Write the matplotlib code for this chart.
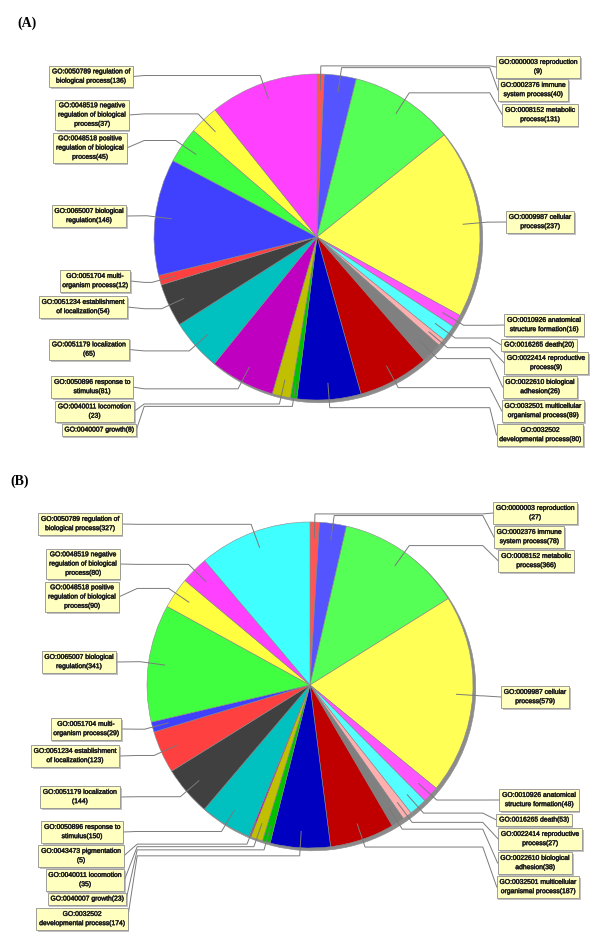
import matplotlib.pyplot as plt
import matplotlib.patheffects as pe
import numpy as np

W, H = 600, 942

# slice order is clockwise from 12 o'clock
terms_a = [
    "GO:0000003 reproduction\n", "GO:0002376 immune\nsystem process",
    "GO:0008152 metabolic\nprocess", "GO:0009987 cellular\nprocess",
    "GO:0010926 anatomical\nstructure formation", "GO:0016265 death",
    "GO:0022414 reproductive\nprocess", "GO:0022610 biological\nadhesion",
    "GO:0032501 multicellular\norganismal process", "GO:0032502\ndevelopmental process",
    "GO:0040007 growth", "GO:0040011 locomotion\n",
    "GO:0050896 response to\nstimulus", "GO:0051179 localization\n",
    "GO:0051234 establishment\nof localization", "GO:0051704 multi-\norganism process",
    "GO:0065007 biological\nregulation", "GO:0048518 positive\nregulation of biological\nprocess",
    "GO:0048519 negative\nregulation of biological\nprocess", "GO:0050789 regulation of\nbiological process",
]
counts_a = [9, 40, 131, 237, 16, 20, 9, 26, 89, 80, 8, 23, 81, 65, 54, 12, 146, 45, 37, 136]

terms_b = terms_a[:12] + ["GO:0043473 pigmentation\n"] + terms_a[12:]
counts_b = [27, 78, 366, 579, 48, 53, 27, 38, 187, 174, 23, 35, 5, 150, 144, 123, 29, 341, 90, 80, 327]

# JFreeChart default paint sequence
palette = ["#FF5555", "#5555FF", "#55FF55", "#FFFF55", "#FF55FF", "#55FFFF",
           "#FFAFAF", "#808080", "#C00000", "#0000C0", "#00C000", "#C0C000",
           "#C000C0", "#00C0C0", "#404040", "#FF4040", "#4040FF", "#40FF40",
           "#FFFF40", "#FF40FF", "#40FFFF"]

# layout (pixel coordinates, y down)
pie_a = dict(center=(317, 237), radius=163)
pie_b = dict(center=(310, 685), radius=163)
label_xy_a = [(538, 67), (533, 90), (540, 115), (540, 222), (544, 325), (539, 345),
              (546, 363), (540, 387), (543, 411), (540, 435), (99, 430), (94.5, 411.5),
              (92, 387), (89, 349.5), (83, 307), (95, 281), (89, 216), (90, 148),
              (92, 115), (91, 76.5)]
label_xy_b = [(535, 513), (529, 537), (536, 561), (535, 697), (539, 800), (534, 820),
              (540, 839), (535, 863), (538, 887), (82, 919), (87, 899), (85, 880),
              (81, 856), (82, 832), (80, 797), (75, 756), (86, 729), (79, 662),
              (82, 597), (83, 564), (80, 524)]

fig = plt.figure(figsize=(6, 9.42), dpi=100)
ax = fig.add_axes([0, 0, 1, 1])


def draw_pie(counts, terms, geom, label_xy):
    cx, cy = geom["center"]
    r = geom["radius"]
    wedges, _ = ax.pie(counts, colors=palette[:len(counts)], center=(cx, H - cy),
                       radius=r, startangle=90, counterclock=False,
                       wedgeprops=dict(edgecolor="#8a8a8a", linewidth=0.4),
                       shadow=dict(ox=2, oy=-2, facecolor="#8c8c8c",
                                   edgecolor="#8c8c8c", alpha=1))
    texts = []
    for term, n, (lx, ly) in zip(terms, counts, label_xy):
        t = ax.text(lx, H - ly, f"{term}({n})", ha="center", va="center",
                    fontsize=4.9, family="Liberation Sans", color="#1a1a1a",
                    linespacing=1.45, zorder=5,
                    path_effects=[pe.withStroke(linewidth=0.35, foreground="#333333")],
                    bbox=dict(boxstyle="square,pad=0.4", fc="#FFFFC0",
                              ec="#8f8f8f", lw=0.6))
        t.get_bbox_patch().set_path_effects([
            pe.SimplePatchShadow(offset=(1.2, -1.2), shadow_rgbFace="#999999", alpha=0.6),
            pe.Normal()])
        texts.append(t)
    return wedges, texts


def draw_links(wedges, texts):
    fig.canvas.draw()
    inv = ax.transData.inverted()
    for w, t in zip(wedges, texts):
        cx, cy = w.center
        r = w.r
        mid = np.deg2rad((w.theta1 + w.theta2) / 2)
        d = np.array([np.cos(mid), np.sin(mid)])
        anchor = np.array([cx, cy]) + 0.9 * r * d
        elbow = np.array([cx, cy]) + 1.05 * r * d
        box = inv.transform(t.get_bbox_patch().get_window_extent())
        ly = t.get_position()[1]
        if d[0] >= 0:
            xl = cx + 1.06 * r
            xe = box[:, 0].min()
        else:
            xl = cx - 1.06 * r
            xe = box[:, 0].max()
        ax.plot([anchor[0], elbow[0], xl, xe], [anchor[1], elbow[1], elbow[1], ly],
                color="#7a7a7a", lw=0.7, zorder=4, solid_joinstyle="miter")


wa, ta = draw_pie(counts_a, terms_a, pie_a, label_xy_a)
wb, tb = draw_pie(counts_b, terms_b, pie_b, label_xy_b)

ax.set_xlim(0, W)
ax.set_ylim(0, H)
ax.set_aspect("auto")
ax.axis("off")

draw_links(wa, ta)
draw_links(wb, tb)

ax.text(17, H - 23, "(A)", family="Liberation Serif", weight="bold", fontsize=10,
        ha="left", va="center")
ax.text(10, H - 481, "(B)", family="Liberation Serif", weight="bold", fontsize=10,
        ha="left", va="center")

fig.savefig("out.png", dpi=100, facecolor="white")
